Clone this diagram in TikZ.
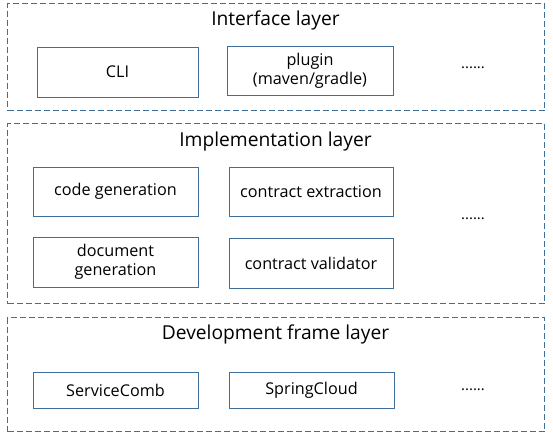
\documentclass[tikz,border=0pt]{standalone}
\usepackage{fontspec}
\setmainfont{Open Sans}
\definecolor{edge}{HTML}{3F6E9A}
\begin{document}
\begin{tikzpicture}[x=1pt,y=-1pt,
  layerbox/.style={draw=edge,line width=1pt,dash pattern=on 6pt off 3pt,inner sep=0pt,anchor=north west},
  itembox/.style={draw=edge,line width=1pt,inner sep=0pt,align=center,font=\fontsize{16.2}{19}\selectfont},
  layertitle/.style={anchor=base,font=\fontsize{19.2}{21}\selectfont,inner sep=0pt},
  moredots/.style={font=\fontsize{15}{16}\selectfont,inner sep=0pt}]
\useasboundingbox (0,0) rectangle (553,432);
% layers
\node[layerbox,minimum width=537pt,minimum height=107pt] (L1) at (7,3) {};
\node[layerbox,minimum width=537pt,minimum height=180pt] (L2) at (7,123) {};
\node[layerbox,minimum width=537pt,minimum height=114pt] (L3) at (7,317) {};
\node[layertitle] (t1) at (275.5,25) {Interface layer};
\node[layertitle] (t2) at (275.5,146) {Implementation layer};
\node[layertitle] (t3) at (275.5,339) {Development frame layer};
% interface layer
\node[itembox,minimum width=161pt,minimum height=50pt] (cli) at (117.5,72) {CLI};
\node[itembox,minimum width=166pt,minimum height=49pt] (plugin) at (310,71) {plugin\\(maven/gradle)};
\node[moredots] (d1) at (473,68) {......};
% implementation layer
\node[itembox,minimum width=165pt,minimum height=49pt] (codegen) at (115.5,191.5) {code generation};
\node[itembox,minimum width=164pt,minimum height=49pt] (extract) at (311,191.5) {contract extraction};
\node[itembox,minimum width=165pt,minimum height=50pt] (docgen) at (115.5,262) {document\\generation};
\node[itembox,minimum width=164pt,minimum height=50pt] (validator) at (311,263) {contract validator};
\node[moredots] (d2) at (473,219) {......};
% development frame layer
\node[itembox,minimum width=165pt,minimum height=36pt] (sc) at (115.5,390) {ServiceComb};
\node[itembox,minimum width=165pt,minimum height=36pt] (spring) at (311.5,390) {SpringCloud};
\node[moredots] (d3) at (473,390) {......};
\end{tikzpicture}
\end{document}
